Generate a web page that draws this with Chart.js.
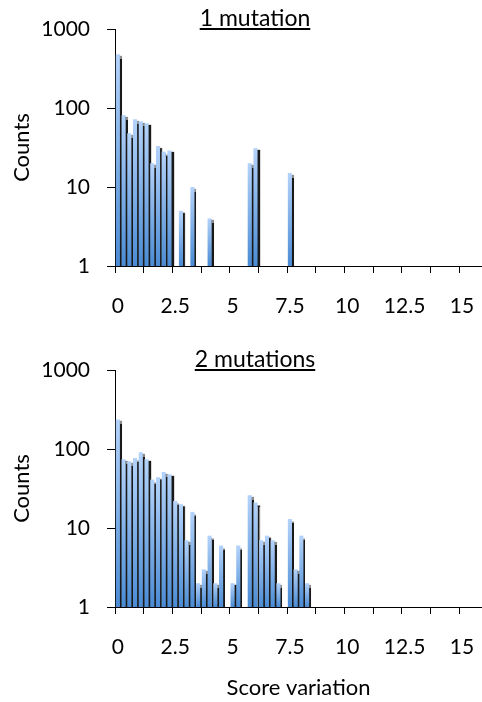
<!DOCTYPE html>
<html>
<head>
<meta charset="utf-8">
<script src="https://cdn.jsdelivr.net/npm/chart.js@4.4.0/dist/chart.umd.min.js"></script>
<style>
body{margin:0;width:482px;height:702px;overflow:hidden;background:#fff;font-family:Lato,sans-serif;}
.panel{position:absolute;left:0;width:482px;}
.title{position:absolute;left:0;width:510px;text-align:center;font-size:23px;line-height:25px;text-decoration:underline;color:#000;pointer-events:none;}
</style>
</head>
<body>
<div class="panel" style="top:0;height:340px"><canvas id="chart1"></canvas></div>
<div class="panel" style="top:340px;height:362px"><canvas id="chart2"></canvas></div>
<div class="title" style="top:5px">1 mutation</div>
<div class="title" style="top:346px">2 mutations</div>
<script>
// score bins (0.25 wide), one bar per bin
const scoreBins = ['0','0.25','0.5','0.75','1','1.25','1.5','1.75','2','2.25','2.5','2.75','3','3.25','3.5','3.75',
  '4','4.25','4.5','4.75','5','5.25','5.5','5.75','6','6.25','6.5','6.75','7','7.25','7.5','7.75',
  '8','8.25','8.5','8.75','9','9.25','9.5','9.75','10','10.25','10.5','10.75','11','11.25','11.5','11.75',
  '12','12.25','12.5','12.75','13','13.25','13.5','13.75','14','14.25','14.5','14.75','15','15.25','15.5','15.75'];

const oneMutationCounts = [480, 81, 48, 72, 68, 64, 20, 33, 28, 29, null, 5, null, 10, null, null,
  4, null, null, null, null, null, null, 20, 31, null, null, null, null, null, 15];

const twoMutationCounts = [237, 74, 70, 77, 91, 74, 41, 44, 51, 48, 22, 20, 7, 16, 2, 3,
  8, 2, 6, null, 2, 6, null, 26, 21, 7, 8, 7, 2, null, 13, 3, 8, 2];

const xTickLabels = ['0', '2.5', '5', '7.5', '10', '12.5', '15'];
const yTickValues = [1, 10, 100, 1000];

Chart.defaults.font.family = 'Lato';
Chart.defaults.font.size = 21;
Chart.defaults.color = '#000';

function barFill(ctx) {
	const chart = ctx.chart;
	const y = chart.scales.y;
	if (!chart.chartArea || ctx.raw == null || !y) return '#7aaae6';
	const top = y.getPixelForValue(ctx.raw);
	const g = chart.ctx.createLinearGradient(0, top, 0, y.bottom);
	g.addColorStop(0, '#b4d3fa');
	g.addColorStop(1, '#4a8bd4');
	return g;
}

const barShadow = {
	id: 'barShadow',
	beforeDatasetsDraw(chart) {
		const c = chart.ctx;
		c.save();
		c.shadowColor = 'rgba(0,0,0,0.9)';
		c.shadowBlur = 1;
		c.shadowOffsetX = 2;
		c.shadowOffsetY = 2;
	},
	afterDatasetsDraw(chart) {
		chart.ctx.restore();
	}
};

function makeChart(id, counts, padTop, xAxisHeight, showXTitle) {
	return new Chart(document.getElementById(id), {
		type: 'bar',
		data: {
			labels: scoreBins,
			datasets: [{
				data: counts,
				backgroundColor: barFill,
				barPercentage: 0.72,
				categoryPercentage: 1
			}]
		},
		plugins: [barShadow],
		options: {
			responsive: true,
			maintainAspectRatio: false,
			animation: false,
			layout: {padding: {top: padTop, left: 0, right: 0, bottom: 0}},
			plugins: {legend: {display: false}, tooltip: {enabled: false}},
			scales: {
				x: {
					z: 1,
					offset: true,
					grid: {
						offset: true,
						drawOnChartArea: false,
						tickLength: 7,
						color: (c) => (c.index % 5 === 0 ? '#000' : 'rgba(0,0,0,0)')
					},
					border: {color: '#000'},
					ticks: {
						autoSkip: false,
						maxRotation: 0,
						padding: 21,
						callback: (v, i) => (i % 10 === 0 ? xTickLabels[i / 10] : '')
					},
					title: {display: showXTitle, text: 'Score variation', font: {size: 22}, padding: {top: 0, bottom: 1}},
					afterFit: (s) => {
						s.height = xAxisHeight;
						s.paddingLeft = 0;
						s.paddingRight = 0;
					}
				},
				y: {
					type: 'logarithmic',
					min: 1,
					max: 1000,
					z: 1,
					afterBuildTicks: (s) => { s.ticks = yTickValues.map(v => ({value: v})); },
					grid: {drawOnChartArea: false, tickLength: 8, color: '#000'},
					border: {color: '#000'},
					ticks: {padding: 17, callback: (v) => String(v)},
					title: {display: true, text: 'Counts', font: {size: 22}, padding: {top: 9, bottom: 0}},
					afterFit: (s) => {
						s.width = 115;
						s.paddingTop = 0;
						s.paddingBottom = 0;
					}
				}
			}
		}
	});
}

makeChart('chart1', oneMutationCounts, 29, 74, false);
makeChart('chart2', twoMutationCounts, 30, 95, true);
</script>
</body>
</html>
